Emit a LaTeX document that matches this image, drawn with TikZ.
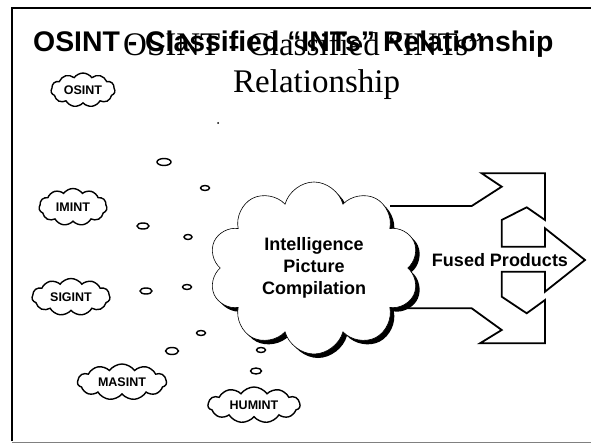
\documentclass[tikz,border=0pt]{standalone}
\usepackage{fontspec}
\setmainfont{Liberation Serif}
\setsansfont{Liberation Sans}
\usetikzlibrary{shapes.symbols}

\begin{document}
\begin{tikzpicture}[x=1pt,y=-1pt]
\tikzstyle{every node}+=[inner sep=0pt]
\tikzstyle{int}=[cloud, cloud puffs=11, cloud puff arc=110, cloud ignores aspect, draw=black, line width=1.4pt, fill=white, inner xsep=1pt, inner ysep=5pt, font=\sffamily\bfseries\fontsize{12.5}{12}\selectfont]
\tikzstyle{bigcloud}=[cloud, cloud puffs=10, cloud ignores aspect, minimum width=210pt, minimum height=172pt]
\useasboundingbox (0,0) rectangle (591,443);
\draw [black, line width=1.2pt] (12,441) -- (12,8) -- (591,8);
\draw [gray, line width=0.8pt] (12,442) -- (591,442);
\node [anchor=base west, font=\sffamily\bfseries\fontsize{28.4}{30}\selectfont] (title) at (33,52) {OSINT - Classified “INTs” Relationship};
\node [anchor=base west, font=\fontsize{33}{37}\selectfont] (titlea) at (123,56) {OSINT - Classified “INTs”};
\node [anchor=base west, font=\fontsize{33}{37}\selectfont] (titleb) at (233,93) {Relationship};
\fill [black] (218,123) circle (1);
\draw [black, line width=1.8pt] (390,206) -- (471.7,206) -- (501.7,186.7) -- (481.7,173.3) -- (545,173.3) -- (545,220) -- (526.7,207.3) -- (501.7,220) -- (501.7,246.7) -- (545,246.7) -- (545,228.3) -- (585,260) -- (545,291.7) -- (545,271.7) -- (501.7,271.7) -- (501.7,296.7) -- (526.7,313.3) -- (545,300) -- (545,343.3) -- (480,343.3) -- (501.7,330) -- (471.7,308.3) -- (390,308.3);
\node [font=\sffamily\bfseries\fontsize{18}{18}\selectfont] (fused) at (500,260) {Fused Products};
\node [bigcloud, fill=black] (shadow) at (318,272) {};
\node [bigcloud, draw=black, fill=white, line width=0.6pt, align=center, font=\sffamily\bfseries\fontsize{18}{22}\selectfont] (ipc) at (314,268) {Intelligence\\Picture\\Compilation};
\node [int, minimum width=64pt, minimum height=29pt] (osint) at (83,90) {OSINT};
\node [int, minimum width=68pt, minimum height=37pt] (imint) at (73,207) {IMINT};
\node [int, minimum width=78pt, minimum height=37pt] (sigint) at (71,297) {SIGINT};
\node [int, minimum width=89pt, minimum height=36pt] (masint) at (122,382) {MASINT};
\node [int, minimum width=92pt, minimum height=36pt] (humint) at (254,405) {HUMINT};
\draw [black, line width=1.4pt] (164,162) ellipse (7 and 3.5);
\draw [black, line width=1.4pt] (205,188) ellipse (4.5 and 2.5);
\draw [black, line width=1.4pt] (143,226) ellipse (6 and 3);
\draw [black, line width=1.4pt] (188,237) ellipse (4 and 2.5);
\draw [black, line width=1.4pt] (146,291) ellipse (6 and 3);
\draw [black, line width=1.4pt] (187,287) ellipse (4.5 and 2.5);
\draw [black, line width=1.4pt] (201,333) ellipse (4.5 and 2.5);
\draw [black, line width=1.4pt] (172,351) ellipse (6.5 and 3.5);
\draw [black, line width=1.4pt] (261,350) ellipse (4.5 and 2.5);
\draw [black, line width=1.4pt] (256,371) ellipse (5.5 and 3);
\end{tikzpicture}
\end{document}
